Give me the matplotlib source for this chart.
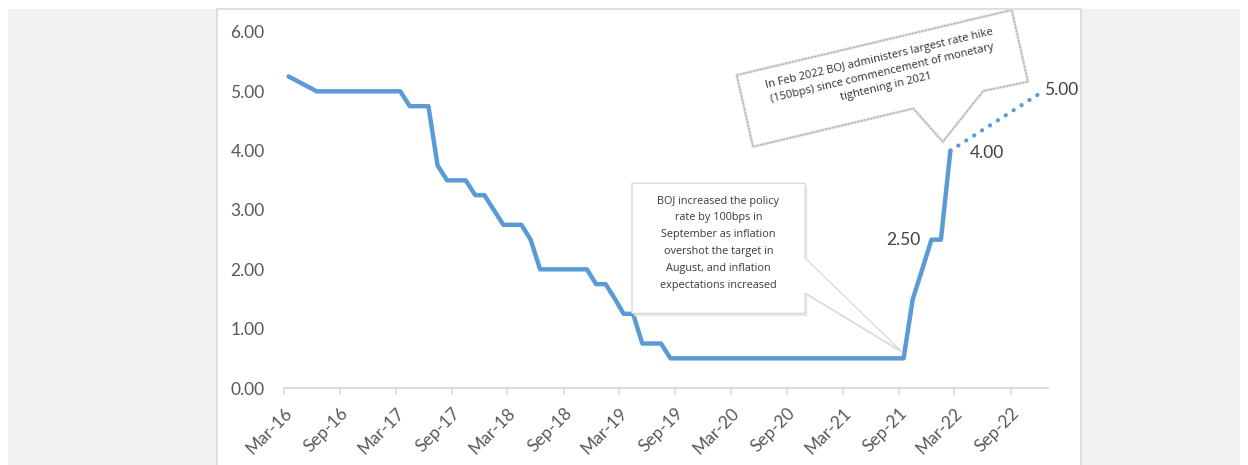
import matplotlib.pyplot as plt
import matplotlib.dates as mdates
from matplotlib.patches import Polygon, Rectangle
import numpy as np
import pandas as pd

plt.rcParams['font.family'] = ['Lato', 'DejaVu Sans']

# BOJ policy rate (%), month of each change
rate_months = ['2016-03', '2016-06', '2017-03', '2017-04', '2017-06', '2017-07',
               '2017-08', '2017-10', '2017-11', '2017-12', '2018-01', '2018-02',
               '2018-04', '2018-05', '2018-06', '2018-11', '2018-12', '2019-01',
               '2019-02', '2019-03', '2019-04', '2019-05', '2019-07', '2019-08',
               '2021-09', '2021-10', '2021-11', '2021-12', '2022-01', '2022-02']
rate_values = [5.25, 5.00, 5.00, 4.75, 4.75, 3.75,
               3.50, 3.50, 3.25, 3.25, 3.00, 2.75,
               2.75, 2.50, 2.00, 2.00, 1.75, 1.75,
               1.50, 1.25, 1.25, 0.75, 0.75, 0.50,
               0.50, 1.50, 2.00, 2.50, 2.50, 4.00]

# projected path
proj_months = ['2022-02', '2022-12']
proj_values = [4.00, 5.00]

labelled = {'2021-12': 2.50, '2022-02': 4.00}

tick_months = pd.date_range('2016-03-01', '2022-09-01', freq='6MS')
y_ticks = [0, 1, 2, 3, 4, 5, 6]

note_sep = ["BOJ increased the policy", "rate by 100bps in", "September as inflation",
            "overshot the target in", "August, and inflation", "expectations increased"]
note_feb = ["In Feb 2022 BOJ administers largest rate hike",
            "(150bps) since commencement of monetary", "tightening in 2021"]


def mid_month(months):
    # points sit in the middle of each monthly slot
    return pd.to_datetime(months) + pd.Timedelta(days=15)


W, H = 1248, 465
fig = plt.figure(figsize=(W / 100, H / 100), dpi=100)
fig.patch.set_facecolor('white')

# page background and chart frame
fig.add_artist(Rectangle((8 / W, 0), 1232 / W, 456 / H, transform=fig.transFigure,
                         facecolor='#f0f1f3', edgecolor='none', zorder=0))
fig.add_artist(Rectangle((217 / W, -0.01), 864 / W, (456 / H) + 0.01, transform=fig.transFigure,
                         facecolor='white', edgecolor='#d9d9d9', lw=1.2, zorder=0))

ax = fig.add_axes([284 / W, 77 / H, 764 / W, 356 / H])
ax.set_facecolor('none')

blue = '#5b9bd5'
x_rate = mid_month(rate_months)
x_proj = mid_month(proj_months)
ax.plot(x_rate, rate_values, color=blue, lw=3.2, solid_joinstyle='round',
        solid_capstyle='round', zorder=3)
ax.plot(x_proj, proj_values, color=blue, lw=3.0, linestyle=(0, (0.05, 2.2)),
        dash_capstyle='round', zorder=3)

ax.set_xlim(pd.Timestamp('2016-03-01'), pd.Timestamp('2023-01-01'))
ax.set_ylim(0, 6)
ax.set_yticks(y_ticks)
ax.set_yticklabels([f'{v:.2f}' for v in y_ticks])
ax.set_xticks(tick_months)
ax.set_xticklabels([d.strftime('%b-%y') for d in tick_months])

for s in ['top', 'right', 'left']:
    ax.spines[s].set_visible(False)
ax.spines['bottom'].set_color('#d9d9d9')
ax.spines['bottom'].set_linewidth(1.3)
ax.tick_params(axis='y', length=0, pad=14, labelsize=12.5, labelcolor='#595959')
ax.tick_params(axis='x', length=5, width=1.1, color='#d9d9d9', pad=7,
               labelsize=12.5, labelcolor='#595959')
for lab in ax.get_xticklabels():
    lab.set_rotation(45)
    lab.set_ha('right')
    lab.set_va('top')
    lab.set_rotation_mode('anchor')

# data labels
lbl = dict(fontsize=12.5, color='#404040')
m = '2021-12'
ax.annotate(f'{labelled[m]:.2f}', (mid_month([m])[0], labelled[m]), xytext=(-8, 0),
            textcoords='offset points', ha='right', va='center', **lbl)
m = '2022-02'
ax.annotate(f'{labelled[m]:.2f}', (mid_month([m])[0], labelled[m]), xytext=(14, -2),
            textcoords='offset points', ha='left', va='center', **lbl)
ax.annotate(f'{proj_values[-1]:.2f}', (x_proj[-1], proj_values[-1]), xytext=(1, 1),
            textcoords='offset points', ha='left', va='center', **lbl)


def to_axes(x, y, dx=0.0, dy=0.0):
    px = ax.transData.transform((mdates.date2num(x), y))
    fx, fy = ax.transAxes.inverted().transform(px)
    return fx + dx, fy + dy


# callout for the September 2021 hike
tip = to_axes(mid_month(['2021-09'])[0], 0.50, -0.003, 0.02)
box1 = [(0.4555, 0.575), (0.682, 0.575), (0.682, 0.365), tip,
        (0.682, 0.267), (0.682, 0.2098), (0.4555, 0.2098)]
shadow1 = [(x + 0.003, y - 0.008) for x, y in box1]
ax.add_patch(Polygon(shadow1, closed=True, transform=ax.transAxes, facecolor='#e8e8e8',
                     edgecolor='none', zorder=4, clip_on=False))
ax.add_patch(Polygon(box1, closed=True, transform=ax.transAxes, facecolor='white',
                     edgecolor='#d4d4d4', lw=0.8, zorder=5, clip_on=False))
ax.text(0.5685, 0.407, '\n'.join(note_sep), transform=ax.transAxes, ha='center',
        va='center', fontsize=7.8, color='#3a3a3a', linespacing=1.72, zorder=6,
        family=['Open Sans', 'DejaVu Sans'])

# tilted callout for the February 2022 hike
tip2 = to_axes(mid_month(['2022-02'])[0], 4.00, -0.01, 0.025)
box2 = [(0.5926, 0.879), (0.9525, 1.0618), (0.9738, 0.8604), (0.9153, 0.8343), tip2,
        (0.8237, 0.7851), (0.6139, 0.6778)]
ax.add_patch(Polygon(box2, closed=True, transform=ax.transAxes, facecolor='white',
                     edgecolor='#dcdcdc', lw=2.0, zorder=5, clip_on=False))
ax.add_patch(Polygon(box2, closed=True, transform=ax.transAxes, facecolor='none',
                     edgecolor='#a8a8a8', lw=0.8, linestyle=(0, (1.5, 1.5)),
                     zorder=5, clip_on=False))
ax.text(0.7835, 0.885, '\n'.join(note_feb), transform=ax.transAxes, ha='center',
        va='center', fontsize=8, color='#303030', linespacing=1.45, rotation=13.3,
        rotation_mode='anchor', zorder=6, family=['Open Sans', 'DejaVu Sans'])

fig.savefig('out.png', dpi=100)
